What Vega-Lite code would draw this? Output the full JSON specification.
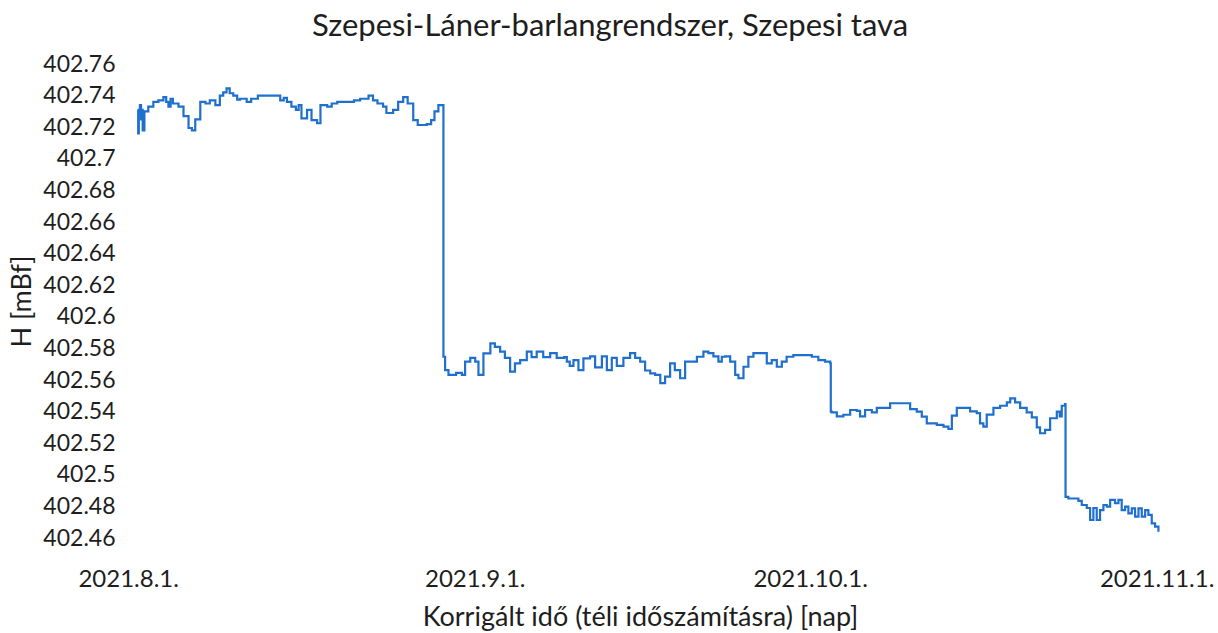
{
  "$schema": "https://vega.github.io/schema/vega-lite/v6.json",
  "autosize": {"type": "none"},
  "width": 1062,
  "height": 474,
  "padding": {"left": 117, "top": 64, "right": 39, "bottom": 95},
  "background": "white",
  "config": {
    "view": {"stroke": null},
    "font": "Lato",
    "title": {"font": "Lato", "fontWeight": "normal", "color": "#1e1e1e"},
    "axis": {"labelFont": "Lato", "titleFont": "Lato", "labelColor": "#1e1e1e", "titleColor": "#1e1e1e", "titleFontWeight": "normal", "grid": false, "domain": false, "ticks": false}
  },
  "title": {"text": "Szepesi-Láner-barlangrendszer, Szepesi tava", "fontSize": 31, "anchor": "middle", "frame": "group", "dx": -38, "offset": 10},
  "data": {"values": [
    {"t":"2021-08-01T20:24","v":402.731},
    {"t":"2021-08-01T21:30","v":402.716},
    {"t":"2021-08-01T22:48","v":402.728},
    {"t":"2021-08-02T01:12","v":402.734},
    {"t":"2021-08-02T03:36","v":402.725},
    {"t":"2021-08-02T05:00","v":402.731},
    {"t":"2021-08-02T07:12","v":402.718},
    {"t":"2021-08-02T10:48","v":402.730},
    {"t":"2021-08-02T19:12","v":402.733},
    {"t":"2021-08-03T06:00","v":402.736},
    {"t":"2021-08-03T16:48","v":402.737},
    {"t":"2021-08-04T03:36","v":402.739},
    {"t":"2021-08-04T09:36","v":402.736},
    {"t":"2021-08-04T14:24","v":402.733},
    {"t":"2021-08-04T19:00","v":402.738},
    {"t":"2021-08-05T00:00","v":402.735},
    {"t":"2021-08-05T12:00","v":402.733},
    {"t":"2021-08-05T22:48","v":402.727},
    {"t":"2021-08-06T09:36","v":402.7195},
    {"t":"2021-08-06T16:48","v":402.718},
    {"t":"2021-08-07T00:00","v":402.725},
    {"t":"2021-08-07T10:48","v":402.736},
    {"t":"2021-08-07T22:00","v":402.735},
    {"t":"2021-08-08T07:12","v":402.737},
    {"t":"2021-08-08T19:12","v":402.734},
    {"t":"2021-08-09T04:48","v":402.740},
    {"t":"2021-08-09T12:00","v":402.742},
    {"t":"2021-08-09T19:12","v":402.7446},
    {"t":"2021-08-10T02:00","v":402.7415},
    {"t":"2021-08-10T09:36","v":402.740},
    {"t":"2021-08-10T18:00","v":402.7375},
    {"t":"2021-08-11T00:00","v":402.738},
    {"t":"2021-08-11T14:24","v":402.736},
    {"t":"2021-08-12T00:00","v":402.738},
    {"t":"2021-08-12T14:24","v":402.740},
    {"t":"2021-08-13T09:36","v":402.740},
    {"t":"2021-08-14T07:12","v":402.740},
    {"t":"2021-08-14T14:24","v":402.737},
    {"t":"2021-08-14T22:00","v":402.7385},
    {"t":"2021-08-15T04:48","v":402.736},
    {"t":"2021-08-15T14:24","v":402.733},
    {"t":"2021-08-16T00:00","v":402.731},
    {"t":"2021-08-16T06:00","v":402.734},
    {"t":"2021-08-16T12:00","v":402.7256},
    {"t":"2021-08-17T00:00","v":402.731},
    {"t":"2021-08-17T09:36","v":402.7245},
    {"t":"2021-08-17T21:36","v":402.7225},
    {"t":"2021-08-18T04:48","v":402.734},
    {"t":"2021-08-18T19:12","v":402.733},
    {"t":"2021-08-19T05:00","v":402.735},
    {"t":"2021-08-19T16:48","v":402.736},
    {"t":"2021-08-20T14:24","v":402.736},
    {"t":"2021-08-21T04:48","v":402.737},
    {"t":"2021-08-21T18:00","v":402.738},
    {"t":"2021-08-22T12:00","v":402.740},
    {"t":"2021-08-22T21:36","v":402.737},
    {"t":"2021-08-23T07:12","v":402.735},
    {"t":"2021-08-23T19:12","v":402.733},
    {"t":"2021-08-24T02:24","v":402.729},
    {"t":"2021-08-24T16:48","v":402.731},
    {"t":"2021-08-25T03:36","v":402.736},
    {"t":"2021-08-25T14:24","v":402.739},
    {"t":"2021-08-26T00:00","v":402.735},
    {"t":"2021-08-26T12:00","v":402.7245},
    {"t":"2021-08-26T21:36","v":402.7214},
    {"t":"2021-08-27T16:48","v":402.722},
    {"t":"2021-08-28T02:24","v":402.7245},
    {"t":"2021-08-28T09:36","v":402.730},
    {"t":"2021-08-28T18:00","v":402.734},
    {"t":"2021-08-29T03:36","v":402.734},
    {"t":"2021-08-29T04:48","v":402.5747},
    {"t":"2021-08-29T08:24","v":402.5663},
    {"t":"2021-08-29T15:36","v":402.5632},
    {"t":"2021-08-30T08:00","v":402.5645},
    {"t":"2021-08-30T20:24","v":402.5632},
    {"t":"2021-08-31T03:20","v":402.5716},
    {"t":"2021-08-31T14:24","v":402.574},
    {"t":"2021-09-01T01:00","v":402.5716},
    {"t":"2021-09-01T08:00","v":402.5632},
    {"t":"2021-09-01T18:40","v":402.5769},
    {"t":"2021-09-02T09:36","v":402.5832},
    {"t":"2021-09-02T19:12","v":402.581},
    {"t":"2021-09-03T06:30","v":402.578},
    {"t":"2021-09-03T16:48","v":402.574},
    {"t":"2021-09-04T04:00","v":402.5653},
    {"t":"2021-09-04T14:24","v":402.5705},
    {"t":"2021-09-05T01:30","v":402.5726},
    {"t":"2021-09-05T15:50","v":402.578},
    {"t":"2021-09-06T02:00","v":402.5745},
    {"t":"2021-09-06T13:00","v":402.578},
    {"t":"2021-09-07T03:00","v":402.5745},
    {"t":"2021-09-07T18:00","v":402.577},
    {"t":"2021-09-08T08:00","v":402.574},
    {"t":"2021-09-09T00:00","v":402.5745},
    {"t":"2021-09-09T05:45","v":402.5716},
    {"t":"2021-09-09T12:00","v":402.569},
    {"t":"2021-09-09T20:00","v":402.5726},
    {"t":"2021-09-10T06:40","v":402.5663},
    {"t":"2021-09-10T17:20","v":402.5737},
    {"t":"2021-09-11T07:40","v":402.575},
    {"t":"2021-09-11T18:30","v":402.568},
    {"t":"2021-09-12T09:00","v":402.575},
    {"t":"2021-09-12T19:40","v":402.5663},
    {"t":"2021-09-13T06:15","v":402.574},
    {"t":"2021-09-13T17:00","v":402.569},
    {"t":"2021-09-14T07:12","v":402.574},
    {"t":"2021-09-14T21:36","v":402.577},
    {"t":"2021-09-15T08:24","v":402.574},
    {"t":"2021-09-15T19:12","v":402.5716},
    {"t":"2021-09-16T05:45","v":402.566},
    {"t":"2021-09-16T16:48","v":402.5642},
    {"t":"2021-09-17T03:20","v":402.5632},
    {"t":"2021-09-17T14:24","v":402.558},
    {"t":"2021-09-18T00:45","v":402.5621},
    {"t":"2021-09-18T11:30","v":402.5705},
    {"t":"2021-09-18T21:36","v":402.5663},
    {"t":"2021-09-19T09:00","v":402.5611},
    {"t":"2021-09-19T19:40","v":402.5716},
    {"t":"2021-09-20T06:30","v":402.5716},
    {"t":"2021-09-20T21:00","v":402.5747},
    {"t":"2021-09-21T11:00","v":402.578},
    {"t":"2021-09-21T21:36","v":402.577},
    {"t":"2021-09-22T08:24","v":402.575},
    {"t":"2021-09-22T19:12","v":402.5716},
    {"t":"2021-09-23T02:24","v":402.5747},
    {"t":"2021-09-23T09:36","v":402.575},
    {"t":"2021-09-23T20:24","v":402.5716},
    {"t":"2021-09-24T07:12","v":402.5632},
    {"t":"2021-09-24T14:10","v":402.5611},
    {"t":"2021-09-25T01:00","v":402.5684},
    {"t":"2021-09-25T11:30","v":402.5747},
    {"t":"2021-09-25T22:20","v":402.577},
    {"t":"2021-09-26T20:00","v":402.577},
    {"t":"2021-09-27T03:00","v":402.5705},
    {"t":"2021-09-27T13:40","v":402.5726},
    {"t":"2021-09-28T00:30","v":402.5684},
    {"t":"2021-09-28T11:20","v":402.5716},
    {"t":"2021-09-28T21:36","v":402.5747},
    {"t":"2021-09-29T12:00","v":402.5758},
    {"t":"2021-09-30T09:36","v":402.5758},
    {"t":"2021-10-01T03:36","v":402.5747},
    {"t":"2021-10-01T17:45","v":402.5726},
    {"t":"2021-10-02T08:10","v":402.5716},
    {"t":"2021-10-02T19:12","v":402.5705},
    {"t":"2021-10-02T20:24","v":402.540},
    {"t":"2021-10-02T22:30","v":402.5395},
    {"t":"2021-10-03T09:20","v":402.537},
    {"t":"2021-10-03T23:30","v":402.538},
    {"t":"2021-10-04T14:00","v":402.541},
    {"t":"2021-10-05T04:20","v":402.5405},
    {"t":"2021-10-05T11:15","v":402.537},
    {"t":"2021-10-05T22:00","v":402.541},
    {"t":"2021-10-06T12:30","v":402.5395},
    {"t":"2021-10-06T23:15","v":402.5423},
    {"t":"2021-10-07T13:30","v":402.5423},
    {"t":"2021-10-08T03:50","v":402.5453},
    {"t":"2021-10-08T18:15","v":402.5453},
    {"t":"2021-10-09T08:24","v":402.5453},
    {"t":"2021-10-09T22:48","v":402.5416},
    {"t":"2021-10-10T13:00","v":402.540},
    {"t":"2021-10-10T23:45","v":402.5368},
    {"t":"2021-10-11T10:30","v":402.5326},
    {"t":"2021-10-12T08:00","v":402.5316},
    {"t":"2021-10-12T22:20","v":402.5305},
    {"t":"2021-10-13T09:00","v":402.529},
    {"t":"2021-10-13T16:20","v":402.5374},
    {"t":"2021-10-14T03:00","v":402.5423},
    {"t":"2021-10-14T17:15","v":402.5423},
    {"t":"2021-10-15T07:30","v":402.5402},
    {"t":"2021-10-15T21:50","v":402.539},
    {"t":"2021-10-16T04:48","v":402.5326},
    {"t":"2021-10-16T12:00","v":402.5305},
    {"t":"2021-10-16T19:12","v":402.5381},
    {"t":"2021-10-17T09:36","v":402.5423},
    {"t":"2021-10-18T00:00","v":402.5437},
    {"t":"2021-10-18T14:24","v":402.5458},
    {"t":"2021-10-18T21:36","v":402.5484},
    {"t":"2021-10-19T08:10","v":402.5458},
    {"t":"2021-10-19T19:00","v":402.5423},
    {"t":"2021-10-20T09:00","v":402.5395},
    {"t":"2021-10-20T20:00","v":402.5363},
    {"t":"2021-10-21T06:40","v":402.530},
    {"t":"2021-10-21T13:40","v":402.5263},
    {"t":"2021-10-22T00:30","v":402.5284},
    {"t":"2021-10-22T11:20","v":402.5358},
    {"t":"2021-10-23T01:40","v":402.540},
    {"t":"2021-10-23T08:00","v":402.537},
    {"t":"2021-10-23T12:15","v":402.5437},
    {"t":"2021-10-23T19:12","v":402.5448},
    {"t":"2021-10-23T20:24","v":402.486},
    {"t":"2021-10-24T02:24","v":402.485},
    {"t":"2021-10-24T16:48","v":402.485},
    {"t":"2021-10-25T00:00","v":402.4835},
    {"t":"2021-10-25T07:12","v":402.4809},
    {"t":"2021-10-25T18:00","v":402.479},
    {"t":"2021-10-26T01:12","v":402.4714},
    {"t":"2021-10-26T08:10","v":402.479},
    {"t":"2021-10-26T15:20","v":402.4714},
    {"t":"2021-10-26T22:30","v":402.4777},
    {"t":"2021-10-27T05:45","v":402.4809},
    {"t":"2021-10-27T13:00","v":402.4798},
    {"t":"2021-10-27T20:10","v":402.4841},
    {"t":"2021-10-28T06:40","v":402.482},
    {"t":"2021-10-28T14:00","v":402.4841},
    {"t":"2021-10-28T21:00","v":402.4777},
    {"t":"2021-10-29T04:20","v":402.4798},
    {"t":"2021-10-29T11:20","v":402.4756},
    {"t":"2021-10-29T18:40","v":402.4788},
    {"t":"2021-10-30T01:40","v":402.4735},
    {"t":"2021-10-30T09:00","v":402.4788},
    {"t":"2021-10-30T16:00","v":402.4735},
    {"t":"2021-10-30T23:20","v":402.4777},
    {"t":"2021-10-31T06:15","v":402.4746},
    {"t":"2021-10-31T13:30","v":402.4693},
    {"t":"2021-10-31T20:40","v":402.4672},
    {"t":"2021-11-01T03:50","v":402.464}
  ]},
  "mark": {"type": "line", "color": "#1f6fcc", "strokeWidth": 2.2, "interpolate": "step-after", "clip": false},
  "encoding": {
    "x": {
      "field": "t", "type": "temporal",
      "scale": {"domain": ["2021-07-31T00:00", "2021-11-03T00:00"]},
      "axis": {
        "values": ["2021-08-01T00:00", "2021-09-01T00:00", "2021-10-01T00:00", "2021-11-01T00:00"],
        "format": "%Y.%-m.%-d.",
        "labelFontSize": 24,
        "labelPadding": 29,
        "labelOverlap": false,
        "title": "Korrigált idő (téli időszámításra) [nap]",
        "titleFontSize": 27,
        "titleX": 523,
        "titleY": 79,
        "titleAlign": "center",
        "titleBaseline": "middle"
      }
    },
    "y": {
      "field": "v", "type": "quantitative",
      "scale": {"domain": [402.46, 402.76], "zero": false, "nice": false},
      "axis": {
        "values": [402.46, 402.48, 402.5, 402.52, 402.54, 402.56, 402.58, 402.6, 402.62, 402.64, 402.66, 402.68, 402.7, 402.72, 402.74, 402.76],
        "format": ".2~f",
        "labelFontSize": 23,
        "labelPadding": 2,
        "labelOverlap": false,
        "title": "H [mBf]",
        "titleFontSize": 27,
        "titleAngle": -90,
        "titleX": -95,
        "titleY": 237,
        "titleAlign": "center",
        "titleBaseline": "middle"
      }
    }
  }
}
